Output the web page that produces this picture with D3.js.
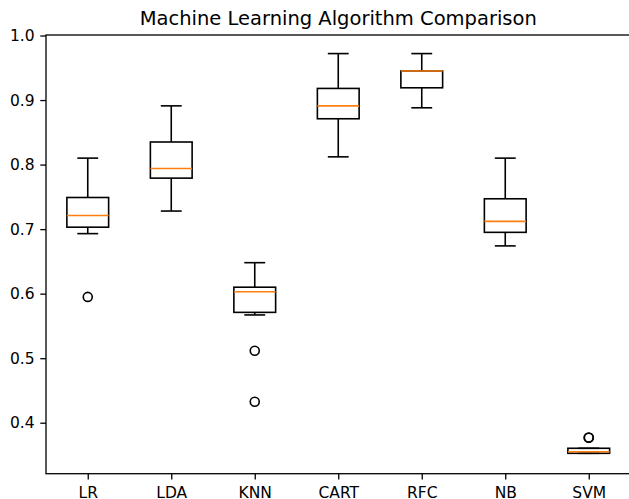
<!DOCTYPE html>
<html>
<head>
<meta charset="utf-8">
<script src="https://cdn.jsdelivr.net/npm/d3@7"></script>
<style>
  html, body { margin: 0; padding: 0; background: #fff; }
  svg { display: block; }
  text { font-family: "DejaVu Sans", sans-serif; fill: #000; }
</style>
</head>
<body>
<svg id="chart" width="629" height="499"></svg>
<script>
const title = "Machine Learning Algorithm Comparison";
const categories = ["LR", "LDA", "KNN", "CART", "RFC", "NB", "SVM"];
const whiskerLow  = [0.693, 0.728, 0.567, 0.812, 0.888, 0.674, 0.3526];
const q1          = [0.703, 0.779, 0.571, 0.871, 0.919, 0.695, 0.3526];
const medians     = [0.721, 0.794, 0.603, 0.891, 0.945, 0.712, 0.3551];
const q3          = [0.749, 0.835, 0.610, 0.918, 0.945, 0.747, 0.3604];
const whiskerHigh = [0.810, 0.891, 0.648, 0.972, 0.972, 0.810, 0.3604];
const outliers    = [[0.595], [], [0.5115, 0.4325], [], [], [], [0.3768, 0.3772]];
const yTicks      = [0.4, 0.5, 0.6, 0.7, 0.8, 0.9, 1.0];

const svg = d3.select("#chart");
const mLeft = 46, mRight = 630.5, mTop = 35, mBottom = 473.7;

const x = d3.scaleLinear().domain([0.5, categories.length + 0.5]).range([mLeft, mRight]);
const y = d3.scaleLinear().domain([0.321, 1.0008]).range([mBottom, mTop]);
const bw = x(1.25) - x(1);   // half box width (0.25 units)
const cw = x(1.125) - x(1);  // half cap width

const stroke = "#000";
const lw = 1.6;

const data = categories.map((c, i) => ({
  c, i: i + 1, lo: whiskerLow[i], q1: q1[i], med: medians[i], q3: q3[i], hi: whiskerHigh[i], out: outliers[i]
}));

const g = svg.append("g");
const box = g.selectAll("g.box").data(data).join("g").attr("class", "box");

// whiskers
box.append("line").attr("x1", d => x(d.i)).attr("x2", d => x(d.i))
  .attr("y1", d => y(d.q3)).attr("y2", d => y(d.hi)).attr("stroke", stroke).attr("stroke-width", lw);
box.append("line").attr("x1", d => x(d.i)).attr("x2", d => x(d.i))
  .attr("y1", d => y(d.q1)).attr("y2", d => y(d.lo)).attr("stroke", stroke).attr("stroke-width", lw);
// caps
box.append("line").attr("x1", d => x(d.i) - cw).attr("x2", d => x(d.i) + cw)
  .attr("y1", d => y(d.hi)).attr("y2", d => y(d.hi)).attr("stroke", stroke).attr("stroke-width", lw);
box.append("line").attr("x1", d => x(d.i) - cw).attr("x2", d => x(d.i) + cw)
  .attr("y1", d => y(d.lo)).attr("y2", d => y(d.lo)).attr("stroke", stroke).attr("stroke-width", lw);
// boxes
box.append("rect").attr("x", d => x(d.i) - bw).attr("width", 2 * bw)
  .attr("y", d => y(d.q3)).attr("height", d => y(d.q1) - y(d.q3))
  .attr("fill", "none").attr("stroke", stroke).attr("stroke-width", lw);
// medians
box.append("line").attr("x1", d => x(d.i) - bw).attr("x2", d => x(d.i) + bw)
  .attr("y1", d => y(d.med)).attr("y2", d => y(d.med)).attr("stroke", "#ff7f0e").attr("stroke-width", lw);
// outliers
box.selectAll("circle").data(d => d.out.map(v => ({ i: d.i, v }))).join("circle")
  .attr("cx", d => x(d.i)).attr("cy", d => y(d.v)).attr("r", 4.5)
  .attr("fill", "none").attr("stroke", stroke).attr("stroke-width", lw);

// axes
const yAxis = d3.axisLeft(y).tickValues(yTicks).tickFormat(d3.format(".1f")).tickSize(5.7).tickPadding(5.7);
const xAxis = d3.axisBottom(x).tickValues(d3.range(1, categories.length + 1))
  .tickFormat(d => categories[d - 1]).tickSize(5.7).tickPadding(5.7);

const ya = svg.append("g").attr("transform", `translate(${mLeft},0)`).call(yAxis);
const xa = svg.append("g").attr("transform", `translate(0,${mBottom})`).call(xAxis);
[ya, xa].forEach(a => {
  a.select(".domain").remove();
  a.selectAll("line").attr("stroke", "#000").attr("stroke-width", 1.3);
  a.selectAll("text").attr("font-family", "DejaVu Sans").attr("font-size", 15.5).attr("fill", "#000");
});
xa.selectAll("text").attr("y", 24.5).attr("dy", 0);

// frame
svg.append("rect").attr("x", mLeft).attr("y", mTop).attr("width", mRight - mLeft).attr("height", mBottom - mTop)
  .attr("fill", "none").attr("stroke", "#000").attr("stroke-width", 1.3);

svg.append("text").attr("x", (mLeft + mRight) / 2).attr("y", 24.5).attr("text-anchor", "middle")
  .attr("font-size", 19.5).text(title);
</script>
</body>
</html>
